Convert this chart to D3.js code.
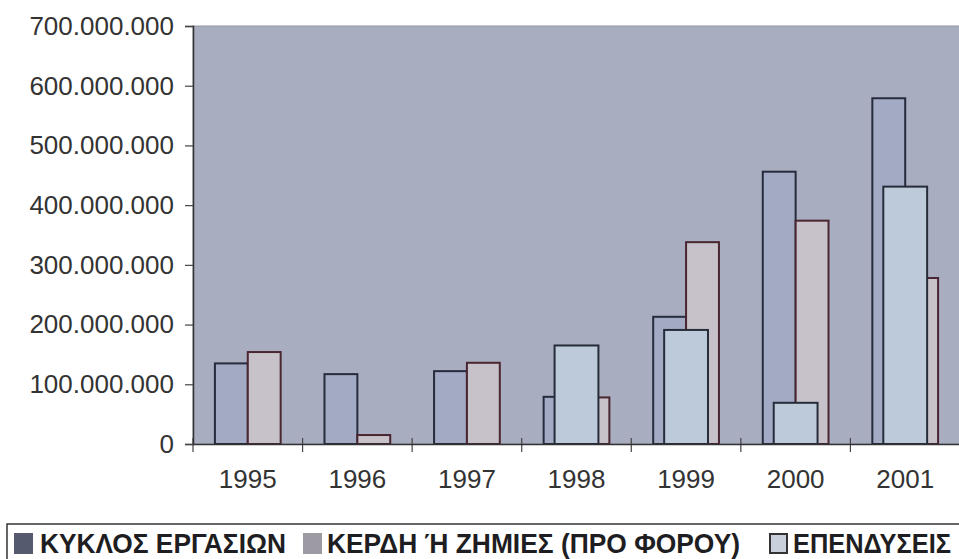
<!DOCTYPE html>
<html>
<head>
<meta charset="utf-8">
<script src="https://cdn.jsdelivr.net/npm/d3@7"></script>
<style>
  body { margin: 0; background: #fff; }
  svg { display: block; }
</style>
</head>
<body>
<div id="viz"></div>
<script>
var width = 959,
    height = 559;

// data
var years = ['1995', '1996', '1997', '1998', '1999', '2000', '2001'];
var kyklos = [135e6, 117e6, 122e6, 79e6, 213e6, 456e6, 579e6];
var kerdi = [154e6, 15e6, 136e6, 78e6, 338e6, 374e6, 278e6];
var ependyseis = [0, 0, 0, 165e6, 191e6, 69e6, 431e6];
var yTicks = [0, 100e6, 200e6, 300e6, 400e6, 500e6, 600e6, 700e6];
var seriesNames = ['ΚΥΚΛΟΣ ΕΡΓΑΣΙΩΝ', 'ΚΕΡΔΗ Ή ΖΗΜΙΕΣ (ΠΡΟ ΦΟΡΟΥ)', 'ΕΠΕΝΔΥΣΕΙΣ'];

var plotBg = '#a8adbf';
var fills = ['#a2abc3', '#c7c2c9', '#bccada'],
    strokes = ['#262b3d', '#4a2630', '#262c3a'];

var plotL = 193, plotR = 960, plotT = 26, plotB = 444;

var svg = d3.select('#viz')
  .append('svg')
  .attr('width', width)
  .attr('height', height)
  .style('font-family', '"Liberation Sans", Arial, sans-serif');

var x = d3.scaleBand().domain(years).range([plotL, plotR]).padding(0);
var y = d3.scaleLinear().domain([0, 700e6]).range([plotB, plotT]);
var bw = x.bandwidth();

// inner positions: two side-by-side bars, third centred on top
var x1 = d3.scaleBand().domain(['a', 'b']).range([bw * 0.2, bw * 0.8]);

//plot area
svg.append('rect')
  .attr('x', plotL)
  .attr('y', plotT)
  .attr('width', plotR - plotL)
  .attr('height', plotB - plotT)
  .style('fill', plotBg)
  .attr('stroke', '#9297a6')
  .attr('stroke-width', 1);

var rows = years.map(function(yr, i) {
  return { year: yr, a: kyklos[i], b: kerdi[i], c: ependyseis[i] };
});

var g = svg.append('g');

function bars(key, idx, x0, w) {
  g.selectAll('rect.s' + idx)
    .data(rows.filter(function(d) { return d[key] > 0; }))
    .enter().append('rect')
    .attr('class', 's' + idx)
    .attr('x', function(d) { return x(d.year) + x0; })
    .attr('y', function(d) { return y(d[key]); })
    .attr('width', w)
    .attr('height', function(d) { return y(0) - y(d[key]); })
    .style('fill', fills[idx])
    .attr('stroke', strokes[idx])
    .attr('stroke-width', 2);
}

bars('a', 0, x1('a'), x1.bandwidth());
bars('b', 1, x1('b'), x1.bandwidth());
bars('c', 2, bw * 0.3, bw * 0.4);

// y axis
var fmt = d3.formatLocale({ decimal: ',', thousands: '.', grouping: [3], currency: ['', ''] }).format(',');

var yAxis = svg.append('g')
  .attr('transform', 'translate(' + plotL + ',0)')
  .call(d3.axisLeft(y).tickValues(yTicks).tickFormat(fmt).tickSize(8).tickPadding(11));
yAxis.select('.domain').attr('stroke', '#333').attr('stroke-width', 1.5);
yAxis.selectAll('.tick line').attr('stroke', '#444').attr('stroke-width', 1.2);
yAxis.selectAll('text')
  .style('font-size', '26px')
  .style('fill', '#333');

// x axis
var xAxis = svg.append('g')
  .attr('transform', 'translate(0,' + plotB + ')')
  .call(d3.axisBottom(x).tickSize(0).tickPadding(26));
xAxis.select('.domain').attr('stroke', '#333').attr('stroke-width', 1.5);
xAxis.selectAll('text')
  .style('font-size', '26px')
  .style('fill', '#333');

// category boundary ticks
g.selectAll('line.xt')
  .data(years)
  .enter().append('line')
  .attr('x1', function(d) { return x(d); })
  .attr('x2', function(d) { return x(d); })
  .attr('y1', plotB - 6)
  .attr('y2', plotB + 8)
  .attr('stroke', '#444')
  .attr('stroke-width', 1.2);

//legend
var legend = svg.append('g');
legend.append('rect')
  .attr('x', 7)
  .attr('y', 524)
  .attr('width', 980)
  .attr('height', 60)
  .style('fill', '#fff')
  .attr('stroke', '#333')
  .attr('stroke-width', 1.5);

var legendItems = [
  { name: seriesNames[0], mx: 15, tx: 40, tw: 246, fill: '#555a6e', stroke: '#555a6e' },
  { name: seriesNames[1], mx: 304, tx: 327, tw: 413, fill: '#9e9aa4', stroke: '#9e9aa4' },
  { name: seriesNames[2], mx: 770, tx: 793, tw: 158, fill: '#c9cfdb', stroke: '#333' }
];

legend.selectAll('rect.mk')
  .data(legendItems)
  .enter().append('rect')
  .attr('class', 'mk')
  .attr('x', function(d) { return d.mx; })
  .attr('y', 534)
  .attr('width', 17)
  .attr('height', 19)
  .style('fill', function(d) { return d.fill; })
  .attr('stroke', function(d) { return d.stroke; })
  .attr('stroke-width', 2);

legend.selectAll('text')
  .data(legendItems)
  .enter().append('text')
  .attr('x', function(d) { return d.tx; })
  .attr('y', 553)
  .attr('textLength', function(d) { return d.tw; })
  .attr('lengthAdjust', 'spacingAndGlyphs')
  .style('font-family', '"Liberation Sans Narrow", "Liberation Sans", Arial, sans-serif')
  .style('font-size', '28px')
  .style('font-weight', 'bold')
  .style('fill', '#1e1e22')
  .text(function(d) { return d.name; });
</script>
</body>
</html>
